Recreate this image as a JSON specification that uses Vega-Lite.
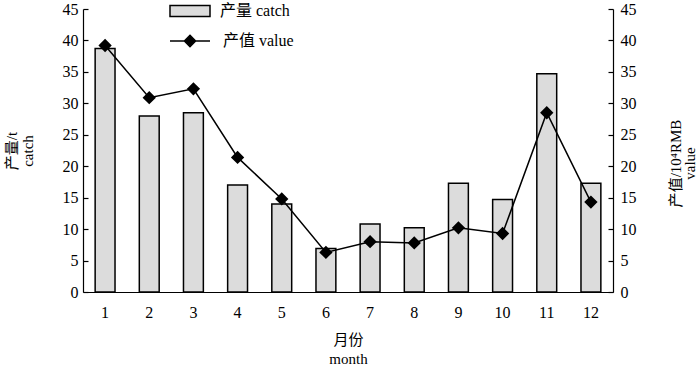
{
  "$schema": "https://vega.github.io/schema/vega-lite/v6.json",
  "width": 530,
  "height": 283,
  "autosize": "none",
  "padding": {"left": 83, "top": 9, "right": 87, "bottom": 76},
  "config": {
    "view": {"stroke": null},
    "font": "Liberation Serif, Noto Sans CJK SC",
    "axis": {
      "domainColor": "black",
      "domainWidth": 1.2,
      "tickColor": "black",
      "tickWidth": 1.2,
      "labelColor": "black",
      "labelFont": "Liberation Serif, Noto Sans CJK SC",
      "labelFontSize": 16,
      "titleFont": "Liberation Serif, Noto Sans CJK SC",
      "titleFontSize": 15,
      "titleFontWeight": "normal",
      "titleColor": "black",
      "grid": false
    },
    "legend": {
      "labelFont": "Liberation Serif, Noto Sans CJK SC",
      "labelFontSize": 16,
      "labelColor": "black",
      "padding": 0
    }
  },
  "data": {
    "values": [
      {"month": 1, "catch": 38.7, "value": 39.2},
      {"month": 2, "catch": 28.0, "value": 30.9},
      {"month": 3, "catch": 28.5, "value": 32.3},
      {"month": 4, "catch": 17.0, "value": 21.4},
      {"month": 5, "catch": 14.0, "value": 14.8},
      {"month": 6, "catch": 6.9, "value": 6.3},
      {"month": 7, "catch": 10.8, "value": 8.0},
      {"month": 8, "catch": 10.2, "value": 7.8},
      {"month": 9, "catch": 17.3, "value": 10.2},
      {"month": 10, "catch": 14.7, "value": 9.3},
      {"month": 11, "catch": 34.7, "value": 28.5},
      {"month": 12, "catch": 17.3, "value": 14.3}
    ]
  },
  "layer": [
    {
      "mark": {"type": "bar", "stroke": "black", "strokeWidth": 1.5},
      "encoding": {
        "x": {
          "field": "month",
          "type": "ordinal",
          "scale": {"paddingInner": 0.55, "paddingOuter": 0.275},
          "axis": {
            "labelAngle": 0,
            "ticks": false,
            "labelPadding": 12,
            "title": ["月份", "month"],
            "titlePadding": 12,
            "titleLineHeight": 19
          }
        },
        "y": {
          "field": "catch",
          "type": "quantitative",
          "scale": {"domain": [0, 45]},
          "axis": {
            "orient": "left",
            "values": [0, 5, 10, 15, 20, 25, 30, 35, 40, 45],
            "tickSize": -5,
            "labelPadding": 10,
            "title": ["产量/t", "catch"],
            "titlePadding": 27,
            "titleLineHeight": 16
          }
        },
        "fill": {
          "datum": "产量 catch",
          "type": "nominal",
          "scale": {"range": ["#dcdcdc"]},
          "legend": {
            "title": null,
            "orient": "none",
            "legendX": 86,
            "legendY": -19,
            "symbolType": "M-1,-0.27H1V0.27H-1Z",
            "symbolSize": 1600,
            "symbolStrokeColor": "black",
            "symbolStrokeWidth": 1.5,
            "labelOffset": 9
          }
        }
      }
    },
    {
      "mark": {
        "type": "line",
        "color": "black",
        "strokeWidth": 1.5,
        "point": {"shape": "diamond", "size": 110, "filled": true, "color": "black"}
      },
      "encoding": {
        "x": {"field": "month", "type": "ordinal"},
        "y": {
          "field": "value",
          "type": "quantitative",
          "scale": {"domain": [0, 45]},
          "axis": {
            "orient": "right",
            "values": [0, 5, 10, 15, 20, 25, 30, 35, 40, 45],
            "tickSize": -5,
            "labelPadding": 12,
            "title": ["产值/10⁴RMB", "value"],
            "titleAngle": -90,
            "titlePadding": 33,
            "titleLineHeight": 14,
            "titleY": 154
          }
        },
        "stroke": {
          "datum": "产值 value",
          "type": "nominal",
          "scale": {"range": ["black"]},
          "legend": {
            "title": null,
            "orient": "none",
            "legendX": 86,
            "legendY": 11,
            "symbolType": "M-1,0H1M0,-0.28L0.28,0L0,0.28L-0.28,0Z",
            "symbolSize": 1600,
            "symbolFillColor": "black",
            "symbolStrokeColor": "black",
            "symbolStrokeWidth": 1.5,
            "labelOffset": 12
          }
        }
      }
    }
  ],
  "resolve": {"scale": {"y": "independent"}}
}
